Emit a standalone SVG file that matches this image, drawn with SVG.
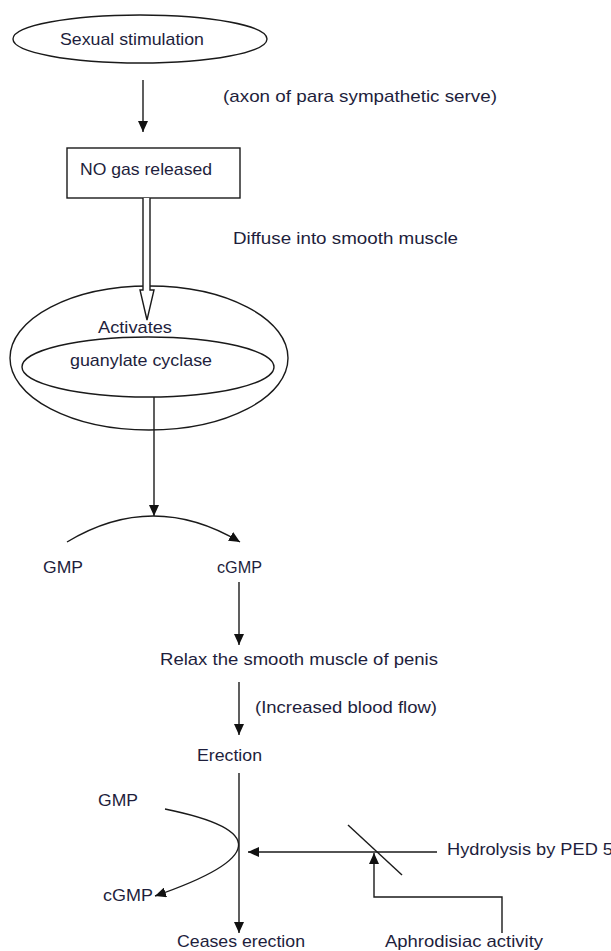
<svg xmlns="http://www.w3.org/2000/svg" width="611" height="951" viewBox="0 0 611 951">
<style>
.ln{fill:none;stroke:#1a1a1a;stroke-width:1.4}
.arr{marker-end:url(#ah)}
.shape{fill:none;stroke:#1a1a1a;stroke-width:1.4}
text{font-family:"Liberation Sans",Arial,sans-serif;font-size:17px;fill:#1e1e3c}
</style>
<defs>
<marker id="ah" markerUnits="userSpaceOnUse" markerWidth="12" markerHeight="10" refX="11" refY="5" orient="auto">
<path d="M0,0 L11,5 L0,10 z" fill="#111"/>
</marker>
</defs>
<rect width="611" height="951" fill="#fff"/>

<g id="node-sexual-stimulation">
<ellipse class="shape" cx="140" cy="39" rx="127" ry="24"/>
<text x="60" y="45" textLength="144" lengthAdjust="spacingAndGlyphs">Sexual stimulation</text>
</g>

<g id="label-axon">
<text x="223" y="102" textLength="274" lengthAdjust="spacingAndGlyphs">(axon  of para sympathetic  serve)</text>
</g>

<g id="node-no-gas">
<rect class="shape" x="67" y="148" width="173" height="50"/>
<text x="80" y="175" textLength="132" lengthAdjust="spacingAndGlyphs">NO gas released</text>
</g>

<g id="label-diffuse">
<text x="233" y="244" textLength="225" lengthAdjust="spacingAndGlyphs">Diffuse  into  smooth  muscle</text>
</g>

<g id="node-activates">
<ellipse class="shape" cx="149" cy="358" rx="139" ry="72"/>
<ellipse class="shape" cx="148" cy="367" rx="126" ry="30"/>
<text x="98" y="333" textLength="74" lengthAdjust="spacingAndGlyphs">Activates</text>
<text x="70" y="366" textLength="142" lengthAdjust="spacingAndGlyphs">guanylate cyclase</text>
</g>

<g id="node-gmp-1"><text x="43" y="573" textLength="40" lengthAdjust="spacingAndGlyphs">GMP</text></g>
<g id="node-cgmp-1"><text x="217" y="573" textLength="45" lengthAdjust="spacingAndGlyphs">cGMP</text></g>
<g id="node-relax"><text x="160" y="665" textLength="278" lengthAdjust="spacingAndGlyphs">Relax  the  smooth  muscle  of  penis</text></g>
<g id="label-blood"><text x="255" y="713" textLength="182" lengthAdjust="spacingAndGlyphs">(Increased blood  flow)</text></g>
<g id="node-erection"><text x="197" y="761" textLength="65" lengthAdjust="spacingAndGlyphs">Erection</text></g>
<g id="node-gmp-2"><text x="98" y="806" textLength="40" lengthAdjust="spacingAndGlyphs">GMP</text></g>
<g id="node-cgmp-2"><text x="103" y="901" textLength="50" lengthAdjust="spacingAndGlyphs">cGMP</text></g>
<g id="node-ceases"><text x="177" y="947" textLength="128" lengthAdjust="spacingAndGlyphs">Ceases erection</text></g>
<g id="node-hydrolysis"><text x="447" y="855" textLength="166" lengthAdjust="spacingAndGlyphs">Hydrolysis by PED 5</text></g>
<g id="node-aphrodisiac"><text x="385" y="947" textLength="158" lengthAdjust="spacingAndGlyphs">Aphrodisiac activity</text></g>

<g id="connectors">
<line class="ln arr" x1="143" y1="80" x2="143" y2="132"/>
<path class="shape" fill="#fff" style="fill:#fff" d="M143,198 L143,290 L140,290 L147,320 L154,290 L150,290 L150,198"/>
<line class="ln arr" x1="154" y1="397" x2="154" y2="516"/>
<path class="ln arr" d="M67,542 Q153,490 240,542"/>
<line class="ln arr" x1="239" y1="582" x2="239" y2="645"/>
<line class="ln arr" x1="239" y1="682" x2="239" y2="735"/>
<line class="ln arr" x1="239" y1="773" x2="239" y2="933"/>
<path class="ln arr" d="M165,809 Q317,840 155,896"/>
<line class="ln arr" x1="437" y1="852" x2="248" y2="852"/>
<line class="ln" x1="348" y1="825" x2="402" y2="875"/>
<polyline class="ln arr" points="502,933 502,897 374,897 374,853"/>
</g>
</svg>
